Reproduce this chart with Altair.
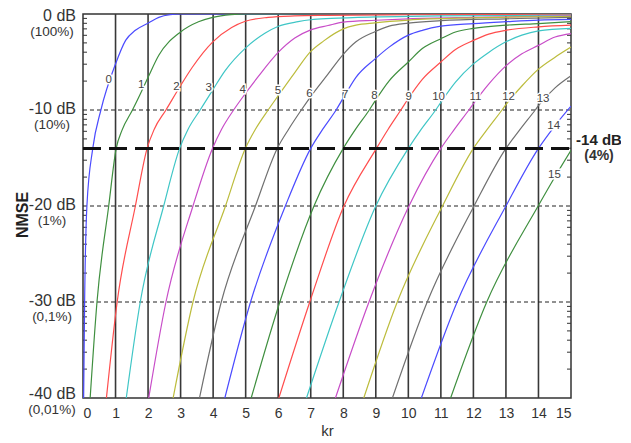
import altair as alt
import pandas as pd
import math

# ---- data: (kr, NMSE in dB) per truncation order N ----
curve_0 = [(0.02, -40), (0.05, -30), (0.12, -20), (0.3, -14), (0.55, -10), (1.0, -5.2), (1.31, -2.75),
           (1.61, -1.7), (2.02, -0.92), (2.33, -0.35), (2.68, -0.07), (3.0, 0.0), (15, 0.0)]
curve_1 = [(0.22, -40), (0.43, -30), (0.79, -20), (1.02, -14), (1.2, -12.1), (1.52, -10), (1.75, -8.4),
           (2.0, -6.6), (2.33, -4.3), (3.0, -1.87), (3.55, -0.81), (3.99, -0.35), (4.55, -0.07),
           (5.0, 0.0), (15, 0.0)]
curve_2 = [(0.72, -40), (1.05, -30), (1.61, -20), (1.97, -14), (2.19, -12), (2.55, -10), (3.01, -7.4),
           (3.35, -5.6), (3.99, -2.9), (4.57, -1.4), (4.99, -0.75), (5.69, -0.35), (6.5, -0.2),
           (7.5, -0.14), (10, -0.08), (15, -0.03)]
curve_3 = [(1.33, -40), (1.76, -30), (2.48, -20), (2.97, -14), (3.23, -12), (3.6, -10), (3.99, -7.9),
           (4.37, -5.9), (5.01, -3.5), (5.59, -2.0), (5.99, -1.3), (6.61, -0.8), (7.0, -0.6),
           (7.63, -0.46), (9, -0.3), (11, -0.2), (15, -0.12)]
curve_4 = [(2.02, -40), (2.55, -30), (3.38, -20), (3.98, -14), (4.26, -12), (4.63, -10), (5.01, -8.2),
           (5.39, -6.5), (6.0, -4.0), (6.51, -2.5), (7.0, -1.65), (7.53, -1.2), (8, -0.85), (9, -0.65),
           (10, -0.5), (12, -0.35), (15, -0.2)]
curve_5 = [(2.77, -40), (3.38, -30), (4.38, -20), (4.99, -14), (5.3, -12), (5.69, -10), (5.99, -8.56),
           (6.51, -6.1), (7.0, -3.9), (7.4, -2.8), (8.0, -1.55), (8.39, -1.16), (8.97, -0.92),
           (10, -0.63), (12, -0.4), (15, -0.25)]
curve_6 = [(3.58, -40), (4.25, -30), (5.3, -20), (5.97, -14), (6.32, -12), (6.71, -10), (7.0, -8.6),
           (7.5, -6.4), (8.0, -4.2), (8.39, -2.9), (8.97, -1.85), (9.41, -1.27), (10, -0.95),
           (11, -0.7), (13, -0.5), (15, -0.35)]
curve_7 = [(4.36, -40), (5.15, -30), (6.22, -20), (7.0, -14), (7.37, -12), (7.78, -10), (8.06, -8.4),
           (8.39, -6.6), (8.97, -4.7), (9.41, -3.45), (10, -2.2), (10.43, -1.7), (11, -1.27), (12, -1.0),
           (13, -0.8), (14, -0.63), (15, -0.56)]
curve_8 = [(5.17, -40), (6.05, -30), (7.1, -20), (8.0, -14), (8.38, -12), (8.8, -10), (8.97, -9.1),
           (9.41, -6.97), (10, -5.0), (10.43, -3.6), (11, -2.57), (11.45, -1.87), (12, -1.5), (13, -1.16),
           (14, -1.0), (15, -0.8)]
curve_9 = [(6.02, -40), (6.97, -30), (8.02, -20), (9.02, -14), (9.38, -12), (9.77, -10), (10, -8.8),
           (10.43, -6.8), (11, -5.0), (11.45, -3.7), (12, -2.75), (12.47, -2.1), (13, -1.7), (14, -1.34),
           (15, -1.16)]
curve_10 = [(6.87, -40), (7.87, -30), (9.0, -20), (10.0, -14), (10.4, -12), (10.84, -10), (11, -9.2),
            (11.45, -7.1), (12, -5.2), (12.47, -4.0), (13, -2.9), (13.49, -2.2), (14, -1.76), (15, -1.5)]
curve_11 = [(7.76, -40), (8.79, -30), (10.02, -20), (11.0, -14), (11.42, -12), (11.86, -10), (12, -9.35),
            (12.47, -7.3), (13, -5.4), (13.49, -4.15), (14, -3.27), (14.51, -2.4), (15, -2.04)]
curve_12 = [(8.63, -40), (9.66, -30), (11.05, -20), (12.0, -14), (12.43, -12), (12.88, -10), (13, -9.45),
            (13.49, -7.5), (14, -5.74), (14.51, -4.5), (15, -3.45)]
curve_13 = [(9.51, -40), (10.58, -30), (12.02, -20), (13.0, -14), (13.44, -12), (13.9, -10), (14, -9.55),
            (14.51, -7.7), (15, -6.44)]
curve_14 = [(10.4, -40), (11.5, -30), (13.0, -20), (14.0, -14), (14.47, -11.8), (15, -9.6)]
curve_15 = [(11.3, -40), (12.41, -30), (13.99, -20), (14.5, -17.0), (15, -14.2)]

curves = [curve_0, curve_1, curve_2, curve_3, curve_4, curve_5, curve_6, curve_7,
          curve_8, curve_9, curve_10, curve_11, curve_12, curve_13, curve_14, curve_15]

# curve number labels
label_text = [str(i) for i in range(16)]
label_kr = [0.79, 1.79, 2.87, 3.86, 4.91, 5.99, 6.96, 8.06, 8.96, 10.01, 10.93, 12.06, 13.08, 14.14, 14.47, 14.49]
label_db = [-6.85, -7.44, -7.61, -7.72, -7.9, -8.0, -8.35, -8.48, -8.58, -8.69, -8.69, -8.69, -8.69, -8.83, -11.68, -16.72]

# axis text
x_ticks = list(range(16))
y_ticks = [0, -10, -20, -30, -40]
y_db_text = ["0 dB", "-10 dB", "-20 dB", "-30 dB", "-40 dB"]
y_pct = ["(100%)", "(10%)", "(1%)", "(0,1%)", "(0,01%)"]
grid_kr = list(range(1, 15))
dashed_db = [-10, -20, -30]
limit_db = [-14]

palette = ["#4b4bff", "#3f8f3f", "#ff4d4d", "#3fc6c6", "#c84dc8", "#bcbc3c", "#707070"]

W, H = 488, 384
FONT = "Liberation Sans"

rows = []
for n, pts in enumerate(curves):
    for i, (k, d) in enumerate(pts):
        rows.append({"n": n, "i": i, "kr": k, "db": d})
df = pd.DataFrame(rows)

xs = alt.Scale(domain=[0, 15], nice=False, zero=False)
ys = alt.Scale(domain=[-40, 0], nice=False, zero=False)

X = alt.X("kr:Q", scale=xs, axis=alt.Axis(values=x_ticks, ticks=False, domain=False, grid=False,
                                        labelFontSize=14, labelColor="#333", labelPadding=8,
                                        title="kr", titleFontSize=15, titleFontWeight="normal",
                                        titleColor="#333", titlePadding=3))
Y = alt.Y("db:Q", scale=ys, axis=None)

# minor (logarithmic) ticks inside the left/right frame
minor = []
for top in [0, -10, -20, -30]:
    for k in range(2, 10):
        minor.append(top - 10 + 10 * math.log10(k))
minor_df = pd.DataFrame({"db": minor})

grid = alt.Chart(pd.DataFrame({"kr": grid_kr})).mark_rule(color="#383838", strokeWidth=1.6).encode(
    x=X, y=alt.value(0), y2=alt.value(H))

hdash = alt.Chart(pd.DataFrame({"db": dashed_db})).mark_rule(
    color="#222", strokeWidth=1, strokeDash=[4, 3]).encode(y=Y, x=alt.value(0), x2=alt.value(W))

ticks_l = alt.Chart(minor_df).mark_rule(color="#333", strokeWidth=1).encode(
    y=Y, x=alt.value(0), x2=alt.value(4))
ticks_r = alt.Chart(minor_df).mark_rule(color="#333", strokeWidth=1).encode(
    y=Y, x=alt.value(W - 4), x2=alt.value(W))

lines = alt.Chart(df).mark_line(clip=True, strokeWidth=1.2, interpolate="monotone").encode(
    x=X, y=Y,
    color=alt.Color("n:N", scale=alt.Scale(domain=list(range(16)),
                                           range=[palette[i % 7] for i in range(16)]), legend=None),
    order="i:Q")

limit = alt.Chart(pd.DataFrame({"db": limit_db})).mark_rule(
    color="#111", strokeWidth=3, strokeDash=[18, 8]).encode(y=Y, x=alt.value(0), x2=alt.value(W))

lab_df = pd.DataFrame({"kr": label_kr, "db": label_db, "t": label_text})
halo = alt.Chart(lab_df).mark_text(font=FONT, fontSize=11.5, color="white", stroke="white",
                                   strokeWidth=3).encode(x=X, y=Y, text="t:N")
labs = alt.Chart(lab_df).mark_text(font=FONT, fontSize=11.5, color="#444").encode(x=X, y=Y, text="t:N")

ylab_df = pd.DataFrame({"db": y_ticks, "t": y_db_text, "p": y_pct})


def y_labels(sel, dy):
    sub = ylab_df.iloc[sel]
    a = alt.Chart(sub).mark_text(font=FONT, fontSize=16, color="#333", align="right",
                                 baseline="middle", dy=dy).encode(y=Y, x=alt.value(-7), text="t:N")
    b = alt.Chart(sub).mark_text(font=FONT, fontSize=13.5, color="#333", align="center",
                                 baseline="middle", dy=dy + 16).encode(y=Y, x=alt.value(-31), text="p:N")
    return [a, b]


ylayers = y_labels([0], 2) + y_labels([1, 2, 3], -1) + y_labels([4], -4)

nmse = alt.Chart(pd.DataFrame({"t": ["NMSE"]})).mark_text(
    font=FONT, fontSize=16, fontWeight="bold", color="#222", angle=270).encode(
    x=alt.value(-60), y=alt.value(201), text="t:N")

r14a = alt.Chart(pd.DataFrame({"db": limit_db, "t": ["-14 dB"]})).mark_text(
    font=FONT, fontSize=15, fontWeight="bold", color="#222", dy=-8).encode(
    y=Y, x=alt.value(W + 28), text="t:N")
r14b = alt.Chart(pd.DataFrame({"db": limit_db, "t": ["(4%)"]})).mark_text(
    font=FONT, fontSize=14, fontWeight="bold", color="#333", dy=8).encode(
    y=Y, x=alt.value(W + 28), text="t:N")

chart = alt.layer(grid, hdash, ticks_l, ticks_r, lines, limit, halo, labs, *ylayers, nmse, r14a, r14b).properties(
    width=W, height=H,
    autosize=alt.AutoSizeParams(type="none"),
    padding={"left": 75, "top": 6, "right": 50, "bottom": 45},
).configure_view(stroke="#333", strokeWidth=1.5).configure_axis(labelFont=FONT, titleFont=FONT)

chart.save("out.html", embed_options={"renderer": "svg", "actions": False})
